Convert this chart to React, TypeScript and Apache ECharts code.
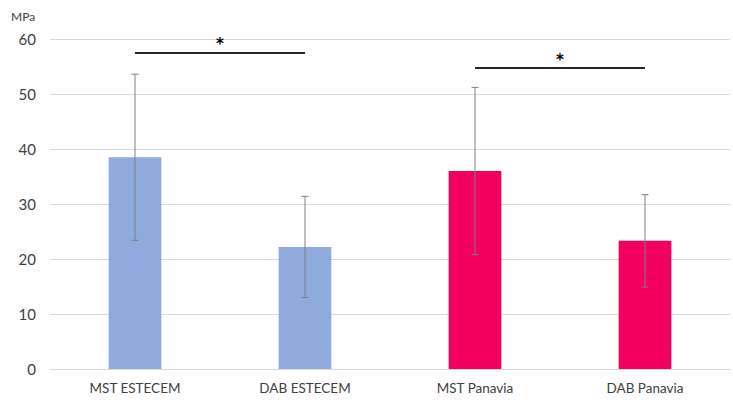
import React, { useEffect, useRef } from "react";
import * as echarts from "echarts";

const categories = ["MST ESTECEM", "DAB ESTECEM", "MST Panavia", "DAB Panavia"];
const means = [38.5, 22.2, 36.0, 23.3];
const sds = [15.1, 9.2, 15.2, 8.4];
const barColors = ["#8FAADC", "#8FAADC", "#F20060", "#F20060"];
const sigPairs = [
  { from: "MST ESTECEM", to: "DAB ESTECEM", y: 57.5 },
  { from: "MST Panavia", to: "DAB Panavia", y: 54.7 },
];
const yTicks = { min: 0, max: 60, interval: 10 };

export default function App() {
  const ref = useRef<HTMLDivElement>(null);
  useEffect(() => {
    if (!ref.current) return;
    const chart = echarts.init(ref.current, undefined, { renderer: "svg" });
    const font = "Lato, 'Open Sans', sans-serif";
    chart.setOption({
      animation: false,
      textStyle: { fontFamily: font },
      grid: { left: 50, right: 3, top: 39, bottom: 33 },
      title: {
        text: "MPa",
        left: 6,
        top: 5,
        textStyle: { fontSize: 12, fontWeight: "normal", color: "#404040", fontFamily: font },
      },
      xAxis: {
        type: "category",
        data: categories,
        axisLine: { lineStyle: { color: "#d9d9d9", width: 1 } },
        axisTick: { show: false },
        axisLabel: { color: "#404040", fontSize: 13.5, margin: 12, fontFamily: font },
      },
      yAxis: {
        type: "value",
        min: yTicks.min,
        max: yTicks.max,
        interval: yTicks.interval,
        axisLine: { show: false },
        axisTick: { show: false },
        splitLine: { lineStyle: { color: "#d9d9d9", width: 1 } },
        axisLabel: { color: "#404040", fontSize: 15, margin: 14, fontFamily: font },
      },
      series: [
        {
          type: "bar",
          data: means.map((v, i) => ({ value: v, itemStyle: { color: barColors[i] } })),
          barWidth: "31%",
          markLine: {
            silent: true,
            symbol: "none",
            lineStyle: { color: "#262626", width: 2, type: "solid" },
            label: {
              show: true,
              position: "middle",
              formatter: "*",
              color: "#000000",
              textBorderWidth: 0,
              fontSize: 15,
              fontWeight: "bold",
              fontFamily: "'DejaVu Sans', sans-serif",
              distance: 1,
            },
            data: sigPairs.map((p) => [
              { coord: [p.from, p.y] },
              { coord: [p.to, p.y] },
            ]),
          },
        },
        {
          type: "custom",
          data: means.map((m, i) => [i, m - sds[i], m + sds[i]]),
          z: 10,
          renderItem: (params: any, api: any) => {
            const i = api.value(0);
            const lo = api.coord([i, api.value(1)]);
            const hi = api.coord([i, api.value(2)]);
            const half = 3.5;
            const style = { stroke: "#7f7f7f", lineWidth: 1 };
            return {
              type: "group",
              children: [
                { type: "line", shape: { x1: hi[0], y1: hi[1], x2: lo[0], y2: lo[1] }, style },
                { type: "line", shape: { x1: hi[0] - half, y1: hi[1], x2: hi[0] + half, y2: hi[1] }, style },
                { type: "line", shape: { x1: lo[0] - half, y1: lo[1], x2: lo[0] + half, y2: lo[1] }, style },
              ],
            };
          },
        },
      ],
    });
    return () => chart.dispose();
  }, []);
  return <div ref={ref} style={{ width: 733, height: 402, position: "absolute", left: 0, top: 0, background: "#fff" }} />;
}
